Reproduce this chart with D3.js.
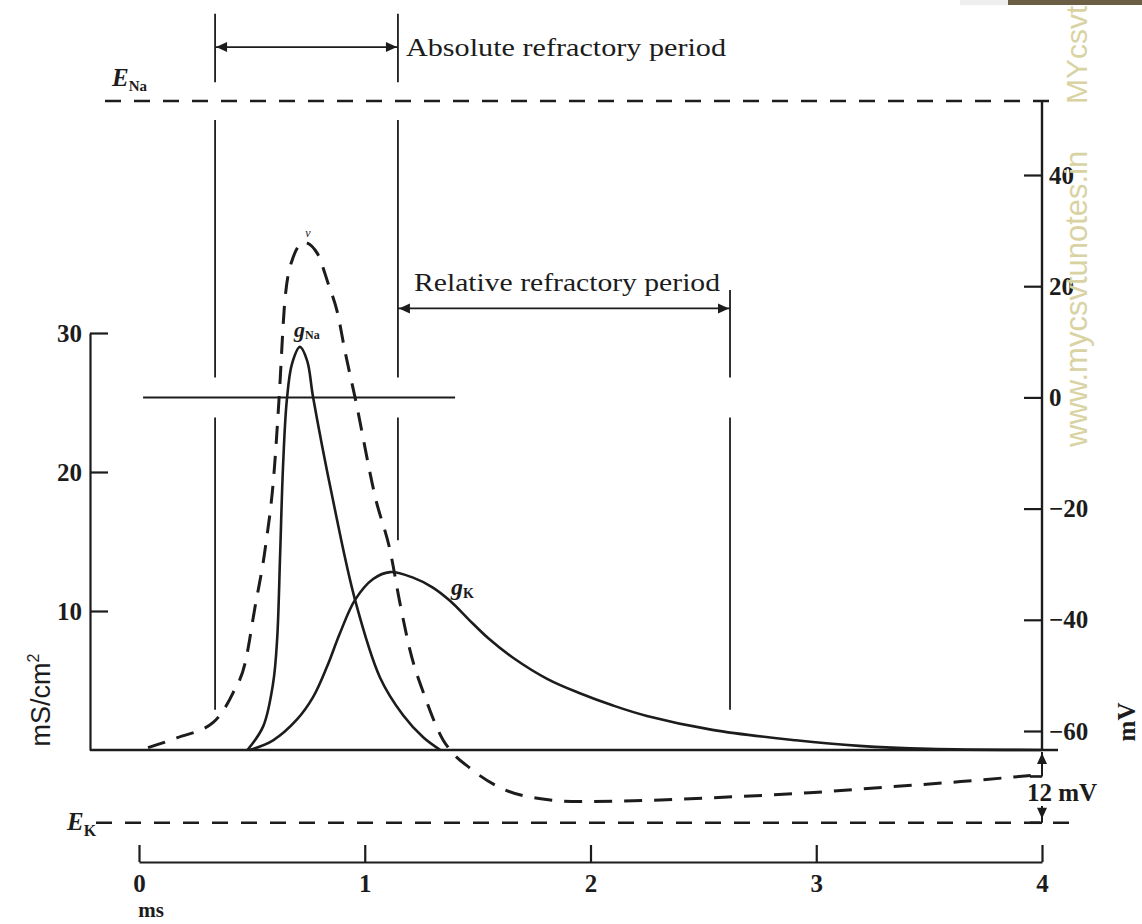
<!DOCTYPE html>
<html>
  <head>
    <meta charset="UTF-8">
    <script type="text/javascript" src="https://d3js.org/d3.v7.min.js"></script>
    <style type="text/css">
      body { margin: 0; background: white; }
      .serif { font-family: "Liberation Serif", "DejaVu Serif", serif; fill: #1c1c1c; }
      .axis .tick text {
        font-family: "Liberation Serif", serif;
        font-size: 25px;
        font-weight: bold;
        fill: #1c1c1c;
      }
      .axis .tick line, .axis .domain { stroke: #1c1c1c; stroke-width: 2.2; }
    </style>
  </head>
<body>
<script type="text/javascript">
var svgWidth = 1142;
var svgHeight = 924;

// tick labels
var timeTicks = [0, 1, 2, 3, 4];       // ms
var gTicks = [10, 20, 30];             // mS/cm2
var vTicks = [40, 20, 0, -20, -40, -60]; // mV

// membrane potential (dashed)
var vTime   = [0.04, 0.17, 0.33, 0.416, 0.47, 0.514, 0.558, 0.60, 0.62, 0.647, 0.682, 0.73, 0.79, 0.837, 0.88, 0.912, 0.957, 1.05, 1.112, 1.156, 1.20, 1.267, 1.347, 1.37, 1.47, 1.60, 1.78, 1.95, 2.31, 2.65, 2.97, 3.34, 3.64, 3.95];
var vValues = [-63.0, -61.2, -58.4, -53.2, -47.8, -37.7, -27.5, -12.6, -0.5, 17.8, 25.1, 27.9, 25.9, 20.6, 15.1, 8.4, 0, -18.5, -27.5, -37.0, -45.4, -53.9, -61.6, -63.0, -66.8, -70.2, -72.2, -72.7, -72.4, -71.8, -71.1, -70.0, -69.1, -68.0];

// sodium conductance
var gNaTime   = [0.48, 0.55, 0.594, 0.612, 0.625, 0.638, 0.655, 0.678, 0.713, 0.745, 0.771, 0.859, 0.957, 1.068, 1.17, 1.26, 1.335];
var gNaValues = [0, 1.7, 4.8, 8.0, 14.0, 20.4, 25.2, 27.8, 29.0, 28.0, 25.4, 18.0, 10.8, 5.2, 2.5, 0.9, 0];

// potassium conductance
var gKTime   = [0.49, 0.594, 0.70, 0.771, 0.833, 0.89, 0.957, 1.037, 1.112, 1.214, 1.30, 1.38, 1.46, 1.55, 1.66, 1.81, 1.95, 2.1, 2.25, 2.54, 2.91, 3.19, 3.5, 4.0];
var gKValues = [0, 0.7, 2.2, 3.8, 6.0, 8.4, 10.8, 12.3, 12.8, 12.4, 11.7, 10.7, 9.4, 8.0, 6.6, 5.1, 4.1, 3.2, 2.45, 1.45, 0.7, 0.3, 0.08, 0];

// reversal / resting potentials (mV)
var ENa = 53.3;
var EK = -76.5;
var Vrest = -63;

// refractory periods (ms)
var absRefractory = [0.337, 1.147];
var relRefractory = [1.147, 2.618];

var ink = '#1c1c1c';

var svg = d3.select('body').append('svg')
  .attr('width', svgWidth)
  .attr('height', svgHeight);

// scales
var xScale = d3.scaleLinear().domain([0, 4]).range([139, 1042]);
var gScale = d3.scaleLinear().domain([0, 30]).range([750, 333]);
var vScale = d3.scaleLinear().domain([-60, 40]).range([731, 175]);

var leftX = 90;
var rightX = xScale(4);
var timeAxisY = 862;

// watermark strip at the top right
svg.append('rect').attr('x', 960).attr('y', 0).attr('width', 48).attr('height', 5).attr('fill', '#eeeeee');
svg.append('rect').attr('x', 1008).attr('y', 0).attr('width', 134).attr('height', 5).attr('fill', '#6a5e44');

// E lines
svg.append('line')
  .attr('x1', 105).attr('x2', 1060)
  .attr('y1', vScale(ENa)).attr('y2', vScale(ENa))
  .attr('stroke', ink).attr('stroke-width', 2.6).attr('stroke-dasharray', '16,13');
svg.append('line')
  .attr('x1', 96).attr('x2', 1080)
  .attr('y1', vScale(EK)).attr('y2', vScale(EK))
  .attr('stroke', ink).attr('stroke-width', 2.6).attr('stroke-dasharray', '16,13');

var eNa = svg.append('text').attr('class', 'serif').attr('x', 112).attr('y', 86).style('font-weight', 'bold');
eNa.append('tspan').text('E').style('font-style', 'italic').style('font-size', '25px');
eNa.append('tspan').text('Na').attr('dy', 5).style('font-size', '15px');

var eK = svg.append('text').attr('class', 'serif').attr('x', 67).attr('y', 830).style('font-weight', 'bold');
eK.append('tspan').text('E').style('font-style', 'italic').style('font-size', '25px');
eK.append('tspan').text('K').attr('dy', 6).style('font-size', '16px');

// refractory markers (vertical lines, broken where they cross E_Na and 0 mV)
var gapNa = 3.4, gap0 = 3.6;
function vSegments(t, top, bottom) {
  var cuts = [[ENa + gapNa, ENa - gapNa], [gap0, -gap0]];
  var segs = [];
  var cur = top;
  cuts.forEach(function(c) {
    if (c[0] < cur && c[1] > bottom) {
      segs.push([cur, c[0]]);
      cur = c[1];
    }
  });
  segs.push([cur, bottom]);
  segs.forEach(function(s) {
    svg.append('line')
      .attr('x1', xScale(t)).attr('x2', xScale(t))
      .attr('y1', vScale(s[0])).attr('y2', vScale(s[1]))
      .attr('stroke', ink).attr('stroke-width', 1.8);
  });
}
vSegments(absRefractory[0], 69, -56.2);
vSegments(absRefractory[1], 69, -25.7);
vSegments(relRefractory[1], 19.3, -56.2);

function arrowHead(x, y, dir) {
  var L = 11, W = 5, p;
  if (dir == 'left') p = [[x, y], [x + L, y - W], [x + L, y + W]];
  if (dir == 'right') p = [[x, y], [x - L, y - W], [x - L, y + W]];
  if (dir == 'up') p = [[x, y], [x - W, y + L], [x + W, y + L]];
  if (dir == 'down') p = [[x, y], [x - W, y - L], [x + W, y - L]];
  svg.append('path').attr('d', 'M' + p.join('L') + 'Z').attr('fill', ink);
}

function doubleArrow(t0, t1, v) {
  var y = vScale(v);
  svg.append('line')
    .attr('x1', xScale(t0)).attr('x2', xScale(t1))
    .attr('y1', y).attr('y2', y)
    .attr('stroke', ink).attr('stroke-width', 1.8);
  arrowHead(xScale(t0) + 1, y, 'left');
  arrowHead(xScale(t1) - 1, y, 'right');
}
doubleArrow(absRefractory[0], absRefractory[1], 63);
doubleArrow(relRefractory[0], relRefractory[1], 16);

svg.append('text').attr('class', 'serif')
  .attr('x', 406).attr('y', 56)
  .attr('textLength', 320).attr('lengthAdjust', 'spacingAndGlyphs')
  .style('font-size', '25px')
  .text('Absolute refractory period');

svg.append('text').attr('class', 'serif')
  .attr('x', 414).attr('y', 291)
  .attr('textLength', 306).attr('lengthAdjust', 'spacingAndGlyphs')
  .style('font-size', '25px')
  .text('Relative refractory period');

// 0 mV reference line
svg.append('line')
  .attr('x1', xScale(0.018)).attr('x2', xScale(1.4))
  .attr('y1', vScale(0)).attr('y2', vScale(0))
  .attr('stroke', ink).attr('stroke-width', 2);

// left axis: conductance
var gAxis = d3.axisLeft(gScale)
  .tickValues(gTicks)
  .tickSize(-18)
  .tickSizeOuter(0)
  .tickPadding(8);
svg.append('g').attr('class', 'axis')
  .attr('transform', 'translate(' + leftX + ',0)')
  .call(gAxis);

// baseline (g = 0, resting potential)
svg.append('line')
  .attr('x1', leftX).attr('x2', 1058)
  .attr('y1', gScale(0)).attr('y2', gScale(0))
  .attr('stroke', ink).attr('stroke-width', 2.6);

// right axis: membrane potential
var vAxis = d3.axisRight(vScale)
  .tickValues(vTicks)
  .tickSize(-18)
  .tickPadding(7);
var gv = svg.append('g').attr('class', 'axis')
  .attr('transform', 'translate(' + rightX + ',0)')
  .call(vAxis);
gv.select('.domain').remove();
svg.append('line')
  .attr('x1', rightX).attr('x2', rightX)
  .attr('y1', vScale(ENa)).attr('y2', gScale(0))
  .attr('stroke', ink).attr('stroke-width', 2.4);

// time axis
var tAxis = d3.axisBottom(xScale)
  .tickValues(timeTicks)
  .tickFormat(d3.format('d'))
  .tickSize(-17)
  .tickSizeOuter(0)
  .tickPadding(12);
svg.append('g').attr('class', 'axis')
  .attr('transform', 'translate(0,' + timeAxisY + ')')
  .call(tAxis);

svg.append('text').attr('class', 'serif')
  .attr('x', 151).attr('y', 917)
  .attr('text-anchor', 'middle')
  .style('font-size', '21px').style('font-weight', 'bold')
  .text('ms');

// 12 mV marker
var endV = vValues[vValues.length - 1];
svg.append('line')
  .attr('x1', rightX - 12).attr('x2', rightX)
  .attr('y1', vScale(endV) + 1).attr('y2', vScale(endV) + 1)
  .attr('stroke', ink).attr('stroke-width', 2.6);
svg.append('line')
  .attr('x1', rightX).attr('x2', rightX)
  .attr('y1', gScale(0) + 2).attr('y2', vScale(endV) + 1)
  .attr('stroke', ink).attr('stroke-width', 2);
svg.append('line')
  .attr('x1', rightX).attr('x2', rightX)
  .attr('y1', 806).attr('y2', vScale(EK))
  .attr('stroke', ink).attr('stroke-width', 2);
svg.append('line')
  .attr('x1', rightX - 12).attr('x2', rightX)
  .attr('y1', vScale(EK)).attr('y2', vScale(EK))
  .attr('stroke', ink).attr('stroke-width', 2.6);
arrowHead(rightX, gScale(0) + 3, 'up');
arrowHead(rightX, vScale(EK) - 4, 'down');
svg.append('text').attr('class', 'serif')
  .attr('x', 1062).attr('y', 801)
  .attr('text-anchor', 'middle')
  .style('font-size', '25px').style('font-weight', 'bold')
  .text('12 mV');

// curves
var vLine = d3.line()
  .x(function(d) { return xScale(d[0]); })
  .y(function(d) { return vScale(d[1]); })
  .curve(d3.curveMonotoneX);
var gLine = d3.line()
  .x(function(d) { return xScale(d[0]); })
  .y(function(d) { return gScale(d[1]); })
  .curve(d3.curveCatmullRom.alpha(0.5));

svg.append('path')
  .datum(d3.zip(vTime, vValues))
  .attr('d', vLine)
  .attr('fill', 'none')
  .attr('stroke', ink)
  .attr('stroke-width', 3)
  .attr('stroke-dasharray', '18,12');

svg.append('path')
  .datum(d3.zip(gNaTime, gNaValues))
  .attr('d', gLine)
  .attr('fill', 'none')
  .attr('stroke', ink)
  .attr('stroke-width', 2.6);

svg.append('path')
  .datum(d3.zip(gKTime, gKValues))
  .attr('d', gLine)
  .attr('fill', 'none')
  .attr('stroke', ink)
  .attr('stroke-width', 2.6);

// curve labels
svg.append('text').attr('class', 'serif')
  .attr('x', 308).attr('y', 237)
  .attr('text-anchor', 'middle')
  .style('font-size', '12px').style('font-style', 'italic')
  .text('v');

var lNa = svg.append('text').attr('class', 'serif').attr('x', 294).attr('y', 337).style('font-weight', 'bold');
lNa.append('tspan').text('g').style('font-style', 'italic').style('font-size', '22px');
lNa.append('tspan').text('Na').attr('dy', 2).style('font-size', '12px');

var lK = svg.append('text').attr('class', 'serif').attr('x', 451).attr('y', 595).style('font-weight', 'bold');
lK.append('tspan').text('g').style('font-style', 'italic').style('font-size', '24px');
lK.append('tspan').text('K').attr('dy', 3).style('font-size', '14px');

// axis titles
var unitG = svg.append('text')
  .attr('transform', 'translate(50,700) rotate(-90)')
  .attr('text-anchor', 'middle')
  .style('font-family', '"Liberation Sans", sans-serif')
  .style('font-size', '27px')
  .attr('fill', ink);
unitG.append('tspan').text('mS/cm');
unitG.append('tspan').text('2').attr('dy', -11).style('font-size', '16px');

svg.append('text').attr('class', 'serif')
  .attr('transform', 'translate(1135,722) rotate(-90)')
  .attr('text-anchor', 'middle')
  .style('font-size', '25px').style('font-weight', 'bold')
  .text('mV');

// watermark
svg.append('text')
  .attr('transform', 'translate(1087,447) rotate(-90)')
  .style('font-family', '"Liberation Sans", sans-serif')
  .style('font-size', '31px')
  .attr('fill', '#d9d3a3')
  .text('www.mycsvtunotes.in');
svg.append('text')
  .attr('transform', 'translate(1087,104) rotate(-90)')
  .style('font-family', '"Liberation Sans", sans-serif')
  .style('font-size', '30px')
  .attr('fill', '#d9d3a3')
  .text('MYcsvt');
</script>
</body>
</html>
